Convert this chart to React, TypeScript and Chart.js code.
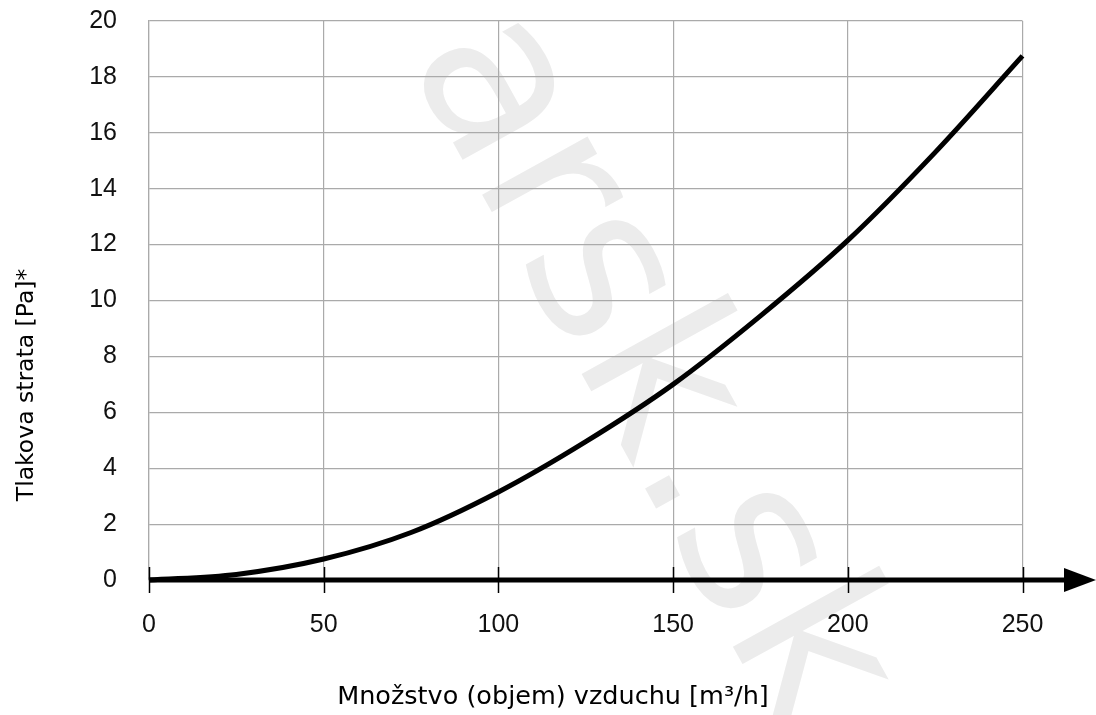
import React, { useEffect, useRef } from "react";
import { Chart, registerables } from "chart.js";

Chart.register(...registerables);

// Data
const airflow = [0, 25, 50, 75, 100, 125, 150, 175, 200, 225, 250];
const pressureLoss = [0, 0.2, 0.75, 1.7, 3.15, 4.95, 7.0, 9.45, 12.15, 15.3, 18.75];
const xTicks = [0, 50, 100, 150, 200, 250];
const yTicks = [0, 2, 4, 6, 8, 10, 12, 14, 16, 18, 20];
const xTitle = "Množstvo (objem) vzduchu [m³/h]";
const yTitle = "Tlakova strata [Pa]*";
const watermark = "arsk.sk";

const TICK_FONT = "'Liberation Sans', Arial, sans-serif";
const TITLE_FONT = "'DejaVu Sans', Tahoma, sans-serif";

const decorPlugin = {
  id: "decor",
  beforeDraw(chart: any) {
    const ctx = chart.ctx;
    ctx.save();
    ctx.fillStyle = "#ffffff";
    ctx.fillRect(0, 0, chart.width, chart.height);
    // faint watermark
    ctx.translate(596, 400);
    ctx.rotate((61 * Math.PI) / 180);
    ctx.font = `220px ${TITLE_FONT}`;
    ctx.fillStyle = "#ececec";
    ctx.textAlign = "center";
    ctx.textBaseline = "alphabetic";
    ctx.fillText(watermark, 0, 0);
    ctx.restore();
  },
  afterDatasetsDraw(chart: any) {
    const ctx = chart.ctx;
    const xs = chart.scales.x;
    const ys = chart.scales.y;
    const y0 = ys.getPixelForValue(0);
    const x0 = xs.getPixelForValue(0);
    ctx.save();
    // thick x-axis with arrow
    ctx.strokeStyle = "#000";
    ctx.lineWidth = 5;
    ctx.beginPath();
    ctx.moveTo(x0, y0);
    ctx.lineTo(chart.width - 30, y0);
    ctx.stroke();
    ctx.fillStyle = "#000";
    ctx.beginPath();
    ctx.moveTo(chart.width - 32, y0 - 12);
    ctx.lineTo(chart.width, y0);
    ctx.lineTo(chart.width - 32, y0 + 12);
    ctx.closePath();
    ctx.fill();
    // black tick marks across the axis
    ctx.lineWidth = 1.5;
    xTicks.forEach((v) => {
      const px = Math.round(xs.getPixelForValue(v)) + 0.5;
      ctx.beginPath();
      ctx.moveTo(px, y0 - 13);
      ctx.lineTo(px, y0 + 13);
      ctx.stroke();
    });
    ctx.restore();
  },
  afterDraw(chart: any) {
    const ctx = chart.ctx;
    ctx.save();
    ctx.fillStyle = "#000";
    ctx.textAlign = "center";
    ctx.textBaseline = "middle";
    ctx.font = `25.5px ${TITLE_FONT}`;
    ctx.fillText(xTitle, 553, 697);
    ctx.translate(27, 385);
    ctx.rotate(-Math.PI / 2);
    ctx.font = `23.5px ${TITLE_FONT}`;
    ctx.fillText(yTitle, 0, 0);
    ctx.restore();
  },
};

export default function App() {
  const canvasRef = useRef<HTMLCanvasElement | null>(null);

  useEffect(() => {
    const canvas = canvasRef.current;
    if (!canvas) return;
    const chart = new Chart(canvas, {
      type: "line",
      data: {
        datasets: [
          {
            data: airflow.map((x, i) => ({ x, y: pressureLoss[i] })),
            borderColor: "#000",
            borderWidth: 5,
            pointRadius: 0,
            cubicInterpolationMode: "monotone",
            fill: false,
            clip: false as any,
          },
        ],
      },
      options: {
        responsive: false,
        devicePixelRatio: 1,
        animation: false,
        layout: { padding: { top: 21, right: 73.5, left: 0, bottom: 0 } },
        plugins: {
          legend: { display: false },
          tooltip: { enabled: false },
          title: { display: false },
        },
        scales: {
          x: {
            type: "linear",
            min: 0,
            max: 250,
            afterBuildTicks: (s: any) => {
              s.ticks = xTicks.map((v) => ({ value: v }));
            },
            afterFit: (s: any) => {
              s.height = 135;
              s.paddingLeft = 0;
              s.paddingRight = 0;
            },
            grid: { color: "#aaaaaa", lineWidth: 1.2, drawTicks: false },
            border: { display: false },
            ticks: {
              padding: 30,
              color: "#111",
              font: { family: TICK_FONT, size: 25 },
              maxRotation: 0,
            },
          },
          y: {
            type: "linear",
            min: 0,
            max: 20,
            afterBuildTicks: (s: any) => {
              s.ticks = yTicks.map((v) => ({ value: v }));
            },
            afterFit: (s: any) => {
              s.width = 149;
              s.paddingTop = 0;
              s.paddingBottom = 0;
            },
            grid: { color: "#aaaaaa", lineWidth: 1.2, drawTicks: false },
            border: { display: true, color: "#aaaaaa", width: 1.2 },
            ticks: {
              padding: 32,
              color: "#111",
              font: { family: TICK_FONT, size: 25 },
            },
          },
        },
      },
      plugins: [decorPlugin],
    } as any);
    return () => chart.destroy();
  }, []);

  return (
    <div style={{ position: "fixed", left: 0, top: 0, width: 1096, height: 715, background: "#fff" }}>
      <canvas ref={canvasRef} width={1096} height={715} style={{ display: "block", width: 1096, height: 715 }} />
    </div>
  );
}
